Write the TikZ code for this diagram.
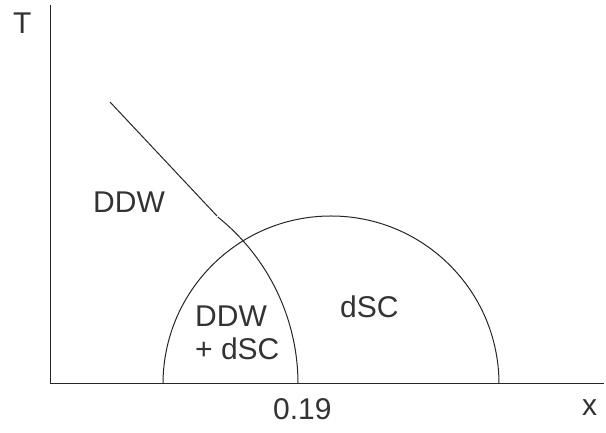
\documentclass[tikz,border=0pt]{standalone}
\usepackage{fontspec}
\setmainfont{Liberation Sans}
\usepackage{tikz}

\tikzset{
  lbl/.style={anchor=base west, inner sep=0pt, text=black!80,
    font=\fontsize{30}{34}\selectfont},
  bound/.style={line width=1pt, color=black!85}
}

\begin{document}
\begin{tikzpicture}[x=1pt,y=1pt]
		\useasboundingbox (0,0) rectangle (606,433);
		\coordinate (o) at (50,49);
		\coordinate (ttop) at (50,428);
		\coordinate (xend) at (604,49);
		\draw[bound] (ttop) -- (o) -- (xend);
		% dSC dome
		\draw[bound] (163,49) arc[start angle=180, end angle=0, radius=168];
		% DDW boundary
		\coordinate (ddwa) at (110,331);
		\coordinate (ddwb) at (217,217);
		\draw[bound] (ddwa) -- (ddwb);
		\draw[bound] (217.8,216) arc[start angle=51.3, end angle=0, radius=214];
		\node[lbl] (tlab) at (13,399) {T};
		\node[lbl] (xlab) at (582,17) {x};
		\node[lbl] (tick) at (273,13) {0.19};
		\node[lbl] (ddw) at (93,220) {DDW};
		\node[lbl] (mixa) at (195,106) {DDW};
		\node[lbl] (mixb) at (195,73) {+ dSC};
		\node[lbl] (dsc) at (340,115) {dSC};
	\end{tikzpicture}
\end{document}
